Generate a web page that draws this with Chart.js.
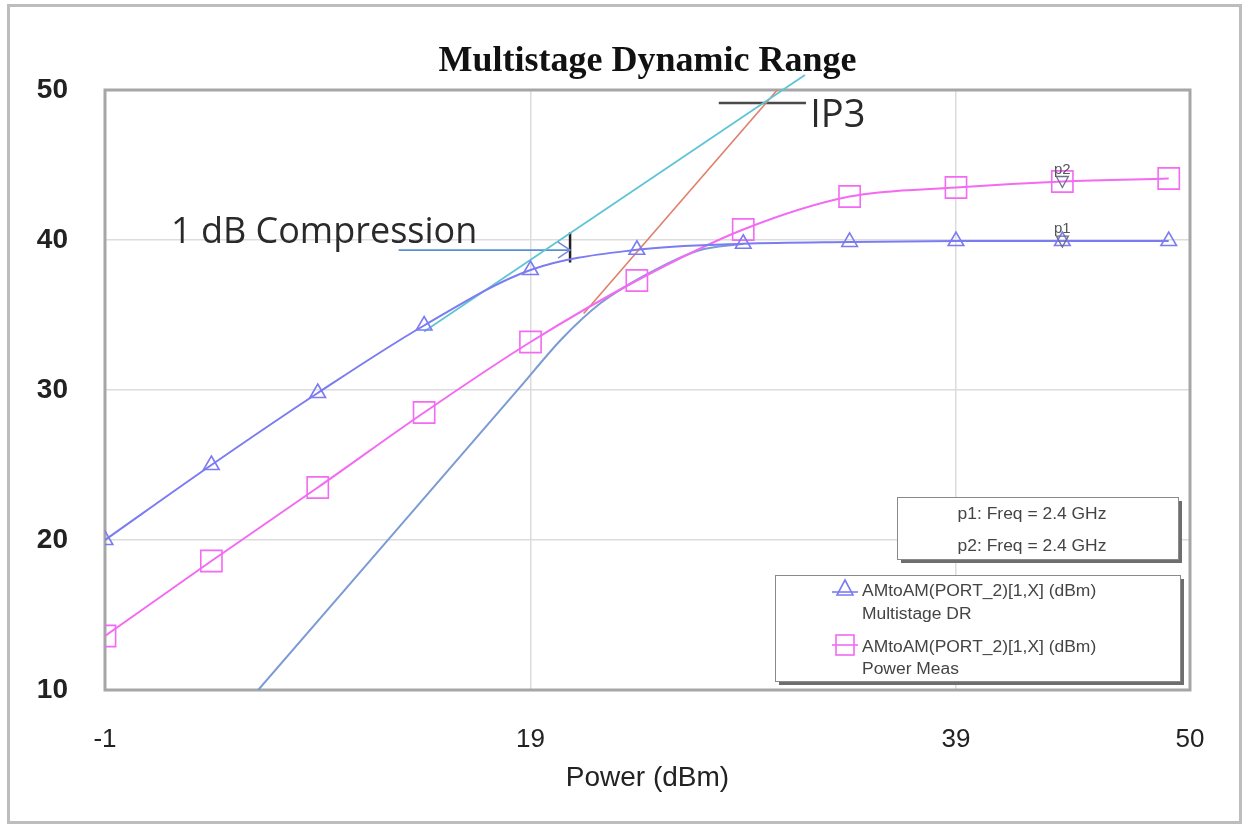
<!DOCTYPE html>
<html><head><meta charset="utf-8">
<script src="https://cdn.jsdelivr.net/npm/chart.js@4.4.1/dist/chart.umd.min.js"></script>
<style>html,body{margin:0;padding:0;background:#fff;} #wrap{width:1249px;height:829px;position:relative;}</style>
</head><body><div id="wrap"><canvas id="c"></canvas></div>
<script>
// ---- data ----
const powerIn = [-1, 4, 9, 14, 19, 24, 29, 34, 39, 44, 49];
const multistageDR = [20.0, 25.0, 29.8, 34.3, 38.0, 39.35, 39.75, 39.87, 39.93, 39.93, 39.93];
const powerMeas = [13.6, 18.6, 23.5, 28.5, 33.2, 37.3, 40.7, 42.9, 43.5, 43.9, 44.1];
const xTickValues = [-1, 19, 39, 50];
const yTickValues = [10, 20, 30, 40, 50];
const linearExtX = [14, 31.9];
const linearExtY = [33.9, 51.0];
const im3X = [6.2, 18.5, 20.5, 22.3, 24.2, 26.9, 29];
const im3Y = [10, 30.17, 33.45, 35.8, 37.5, 39.3, 39.75];
const im3ExtX = [21.5, 30.6];
const im3ExtY = [35.1, 50.0];
const ip3MarkX = [27.85, 31.95];
const ip3MarkY = [49.13, 49.13];
const compLineX = [12.8, 20.86];
const compLineY = [39.33, 39.33];
const compBarX = [20.86, 20.86];
const compBarY = [38.5, 40.5];
const markerPowers = [44, 44];
const markerValues = [39.93, 43.9];
const markerNames = ['p1', 'p2'];
const ip3LabelPos = [32.15, 47.55];
const compLabelPos = [2.1, 39.8];

const mk = (xs, ys) => xs.map((x, i) => ({x: x, y: ys[i]}));
const BLUE = '#7b7bf2', PINK = '#f36af3';

const decor = {
  id: 'decor',
  beforeDraw(chart) {
    const c = chart.ctx;
    c.save();
    c.fillStyle = '#fff';
    c.fillRect(0, 0, chart.width, chart.height);
    c.strokeStyle = '#bdbdbd';
    c.lineWidth = 3;
    c.strokeRect(8.5, 5.5, 1232, 817);
    c.restore();
  },
  beforeDatasetsDraw(chart) {
    const c = chart.ctx, a = chart.chartArea;
    c.save();
    c.strokeStyle = '#a6a6a6';
    c.lineWidth = 3;
    c.strokeRect(a.left, a.top, a.right - a.left, a.bottom - a.top);
    c.restore();
  },
  afterDatasetsDraw(chart) {
    const c = chart.ctx, xs = chart.scales.x, ys = chart.scales.y;
    c.save();
    // annotation texts
    c.fillStyle = '#2a2a2a';
    c.font = '38px "Open Sans"';
    c.textBaseline = 'alphabetic';
    c.textAlign = 'left';
    c.fillText('IP3', xs.getPixelForValue(ip3LabelPos[0]), ys.getPixelForValue(ip3LabelPos[1]));
    c.font = '36px "Open Sans"';
    c.fillText('1 dB Compression', xs.getPixelForValue(compLabelPos[0]), ys.getPixelForValue(compLabelPos[1]));
    // small arrowhead at the 1 dB bar
    const bx = xs.getPixelForValue(compBarX[0]), by = ys.getPixelForValue(compLineY[0]);
    c.strokeStyle = '#7b86d8';
    c.lineWidth = 1.5;
    c.beginPath();
    c.moveTo(bx - 12, by - 8); c.lineTo(bx, by); c.lineTo(bx - 12, by + 8);
    c.stroke();
    // p1 / p2 markers
    for (let i = 0; i < markerPowers.length; i++) {
      const px = xs.getPixelForValue(markerPowers[i]), py = ys.getPixelForValue(markerValues[i]);
      c.strokeStyle = '#6d6d8a';
      c.lineWidth = 1.3;
      c.beginPath();
      c.moveTo(px - 6, py - 5); c.lineTo(px + 6, py - 5); c.lineTo(px, py + 6); c.closePath();
      c.stroke();
      c.fillStyle = '#555';
      c.font = '15px "Liberation Sans"';
      c.textAlign = 'center';
      c.fillText(markerNames[i], px, py - 8);
    }
    // marker info box
    const box = (x, y, w, h) => {
      c.fillStyle = '#6e6e6e';
      c.fillRect(x + 4, y + 4, w, h);
      c.fillStyle = '#fff';
      c.fillRect(x, y, w, h);
      c.strokeStyle = '#8a8a8a';
      c.lineWidth = 1;
      c.strokeRect(x + 0.5, y + 0.5, w, h);
    };
    const txt = (s, x, y, align) => {
      c.save();
      c.translate(x, y);
      c.scale(1.09, 1);
      c.textAlign = align;
      c.fillText(s, 0, 0);
      c.restore();
    };
    box(897, 497, 281, 62);
    c.fillStyle = '#444';
    c.font = '16px "Liberation Sans"';
    txt('p1: Freq = 2.4 GHz', 1032, 519, 'center');
    txt('p2: Freq = 2.4 GHz', 1032, 551, 'center');
    box(775, 575, 405, 106);
    // legend symbols
    c.lineWidth = 1.6;
    c.strokeStyle = BLUE;
    c.beginPath(); c.moveTo(832, 592); c.lineTo(858, 592); c.stroke();
    c.beginPath(); c.moveTo(845, 580); c.lineTo(853, 595); c.lineTo(837, 595); c.closePath(); c.stroke();
    c.strokeStyle = PINK;
    c.beginPath(); c.moveTo(832, 645); c.lineTo(858, 645); c.stroke();
    c.strokeRect(836, 635, 18, 20);
    c.fillStyle = '#444';
    txt('AMtoAM(PORT_2)[1,X] (dBm)', 862, 596, 'left');
    txt('Multistage DR', 862, 619, 'left');
    txt('AMtoAM(PORT_2)[1,X] (dBm)', 862, 652, 'left');
    txt('Power Meas', 862, 674, 'left');
    c.restore();
  }
};

new Chart(document.getElementById('c'), {
  type: 'line',
  data: {
    datasets: [
      {label: 'AMtoAM(PORT_2)[1,X] (dBm) Multistage DR', data: mk(powerIn, multistageDR), borderColor: BLUE, backgroundColor: 'rgba(0,0,0,0)', borderWidth: 2, pointStyle: 'triangle', pointRadius: 9, pointBorderWidth: 1.6, pointBorderColor: BLUE, pointBackgroundColor: 'rgba(0,0,0,0)', cubicInterpolationMode: 'monotone'},
      {label: 'AMtoAM(PORT_2)[1,X] (dBm) Power Meas', data: mk(powerIn, powerMeas), borderColor: PINK, backgroundColor: 'rgba(0,0,0,0)', borderWidth: 2, pointStyle: 'rect', pointRadius: 15, pointBorderWidth: 1.6, pointBorderColor: PINK, pointBackgroundColor: 'rgba(0,0,0,0)', cubicInterpolationMode: 'monotone'},
      {label: 'Linear extrapolation', data: mk(linearExtX, linearExtY), borderColor: '#5ec5d5', borderWidth: 1.8, pointRadius: 0, clip: false},
      {label: 'IM3', data: mk(im3X, im3Y), borderColor: '#7c9bd4', borderWidth: 2, pointRadius: 0, cubicInterpolationMode: 'monotone'},
      {label: 'IM3 extrapolation', data: mk(im3ExtX, im3ExtY), borderColor: '#df7f6c', borderWidth: 1.6, pointRadius: 0},
      {label: 'IP3 marker', data: mk(ip3MarkX, ip3MarkY), borderColor: '#4a4a4a', borderWidth: 2.5, pointRadius: 0, clip: false},
      {label: '1 dB marker', data: mk(compLineX, compLineY), borderColor: '#5a8fcf', borderWidth: 1.8, pointRadius: 0},
      {label: '1 dB bar', data: mk(compBarX, compBarY), borderColor: '#222', borderWidth: 2.5, pointRadius: 0}
    ]
  },
  options: {
    responsive: true,
    maintainAspectRatio: false,
    animation: false,
    devicePixelRatio: 1,
    layout: {padding: {left: 0, right: 59, top: 0, bottom: 0}},
    plugins: {
      legend: {display: false},
      tooltip: {enabled: false},
      title: {
        display: true, text: 'Multistage Dynamic Range', fullSize: false,
        color: '#111', font: {family: '"Liberation Serif"', size: 36, weight: 'bold', lineHeight: 1.2},
        padding: {top: 40, bottom: 6.8}
      }
    },
    scales: {
      x: {
        type: 'linear', min: -1, max: 50,
        afterBuildTicks: s => { s.ticks = xTickValues.map(v => ({value: v})); },
        afterFit: s => { s.height = 139; },
        grid: {color: '#dcdcdc', lineWidth: 1.5, drawTicks: false},
        border: {display: false},
        ticks: {color: '#222', font: {family: '"Liberation Sans"', size: 26}, padding: 34, maxRotation: 0, autoSkip: false},
        title: {display: true, text: 'Power (dBm)', color: '#222', font: {family: '"Liberation Sans"', size: 28, lineHeight: 1.2}, padding: {top: 0, bottom: 34}}
      },
      y: {
        type: 'linear', min: 10, max: 50,
        afterBuildTicks: s => { s.ticks = yTickValues.map(v => ({value: v})); },
        afterFit: s => { s.width = 105; },
        grid: {color: '#dcdcdc', lineWidth: 1.5, drawTicks: false},
        border: {display: false},
        ticks: {color: '#222', font: {family: '"Liberation Sans"', size: 28, weight: 'bold'}, padding: 37}
      }
    }
  },
  plugins: [decor]
});
</script>
</body></html>
